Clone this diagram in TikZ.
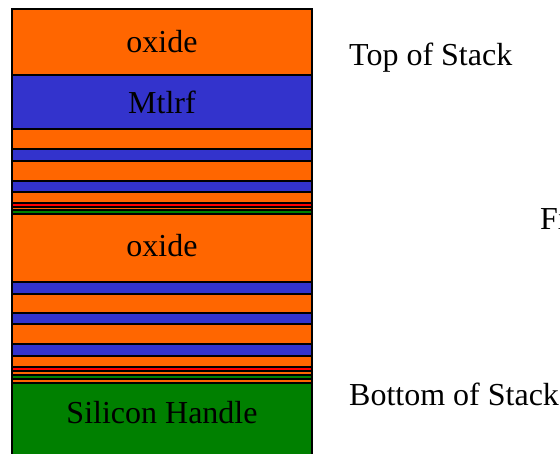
\documentclass[tikz,border=0pt]{standalone}
\usepackage{fontspec}
\setmainfont{Liberation Serif}
\usepackage{xcolor}
\definecolor{oxidecol}{HTML}{FF6600}
\definecolor{metalcol}{HTML}{3333CC}
\definecolor{siliconcol}{HTML}{008000}
\definecolor{thincol}{HTML}{FF0000}
\tikzset{
  layer/.style={draw=black, line width=1.5pt},
  stacklabel/.style={font=\fontsize{32}{38}\selectfont},
  sidelabel/.style={font=\fontsize{32}{38}\selectfont, anchor=base west, inner sep=0pt}
}

\begin{document}
\begin{tikzpicture}[x=1pt, y=-1pt]
    \clip (0,0) rectangle (560,454);
    \fill[white] (0,0) rectangle (560,454);
    % layers of the stack, top to bottom
    \foreach \top/\bot/\col in {
        9/75/oxidecol,
        75/129/metalcol,
        129/149/oxidecol,
        149/161/metalcol,
        161/181/oxidecol,
        181/192/metalcol,
        192/203/oxidecol,
        203/207/thincol,
        207/210/oxidecol,
        210/214/siliconcol,
        214/282/oxidecol,
        282/294/metalcol,
        294/313/oxidecol,
        313/324/metalcol,
        324/344/oxidecol,
        344/356/metalcol,
        356/367/oxidecol,
        367/371/thincol,
        371/375/oxidecol,
        375/379/siliconcol,
        379/383/oxidecol,
        383/480/siliconcol}{
        \filldraw[layer, fill=\col] (12,\top) rectangle (312,\bot);
    }
    % names inside the layers
    \node[stacklabel] (oxtop) at (162,42) {oxide};
    \node[stacklabel] (mtlrf) at (162,102) {Mtlrf};
    \node[stacklabel] (oxmid) at (162,246) {oxide};
    \node[stacklabel] (handle) at (162,413) {Silicon Handle};
    % side notes
    \node[sidelabel] (toplbl) at (349,66) {Top of Stack};
    \node[sidelabel] (botlbl) at (349,406) {Bottom of Stack};
    \node[sidelabel] (filmlbl) at (540,230) {Fi};
\end{tikzpicture}
\end{document}
